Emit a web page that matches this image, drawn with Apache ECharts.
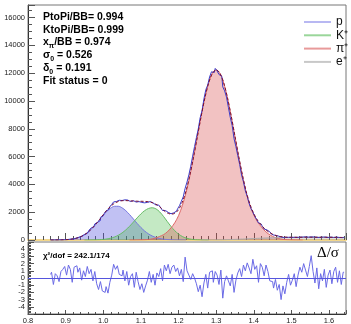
<!DOCTYPE html>
<html>
<head>
<meta charset="utf-8">
<script src="https://cdn.jsdelivr.net/npm/echarts@6/dist/echarts.min.js"></script>
<style>
html,body{margin:0;padding:0;background:#fff}
#c{width:351px;height:324px}
</style>
</head>
<body>
<div id="c"></div>
<script>
// Mass-squared / BB fit: data histogram, species components, total fit, pulls.
const xMin = 0.8, xMax = 1.645;

// Data histogram (bin width 0.005, first bin centre 0.86)
const binStart = 0.86, binWidth = 0.005;
const counts = [
  2,3,1,4,6,6,14,21,30,33,
  55,68,75,122,161,196,258,295,397,474,
  611,711,859,962,1158,1269,1408,1626,1745,1901,
  2098,2196,2405,2560,2740,2769,2857,2824,2841,2889,
  2812,2874,2766,2820,2831,2725,2831,2761,2701,2739,
  2672,2705,2733,2766,2658,2656,2520,2514,2397,2326,
  2121,2124,1990,1988,1889,1954,1994,2088,2244,2466,
  2786,3104,3714,4166,4690,5311,6034,6711,7365,7989,
  8794,9300,10148,10807,11142,11726,12097,12048,12340,12164,
  11901,11774,11012,10725,10273,9541,8812,8235,7290,6711,
  6062,5428,4671,4184,3539,3135,2631,2257,2010,1707,
  1483,1226,1141,974,788,722,591,485,408,340,
  311,255,238,189,202,179,194,207,184,193,
  205,180,203,219,210,228,216,203,223,244,
  213,190,219,178,206,191,213,177,200,208,
  180,202,209,178,198,170,191
];

// Pulls (data - fit) / sigma, same bins
const pulls = [
  0.5,0.8,-0.9,0.6,0.3,-0.5,0.9,1.2,1.6,0.4,
  1.8,1.2,-0.6,1.5,1.7,0.8,1.4,-0.3,1.0,0.2,
  1.6,0.6,1.2,-0.4,0.9,-0.8,-1.6,-0.5,-1.8,-2.0,
  -1.2,-2.1,-0.6,0.4,1.9,1.2,1.7,0.5,0.3,1.1,
  -0.4,0.9,-1.0,0.2,0.6,-1.3,0.8,-0.5,-1.6,-0.8,
  -2.0,-1.1,-0.3,0.9,-0.6,0.5,-1.0,0.7,0.2,1.3,
  -0.4,1.8,1.0,1.9,0.6,1.5,1.8,0.9,1.4,0.3,
  1.2,-0.5,2.9,1.0,0.4,-0.2,0.6,0.0,-0.8,-1.9,
  -1.0,-2.6,-0.7,0.5,-1.4,0.8,1.0,-0.6,0.9,0.4,
  -0.9,1.1,-2.8,-0.5,0.3,-0.4,-1.1,0.5,-2.0,-0.3,
  0.7,1.3,0.2,1.8,1.0,2.1,1.4,0.6,2.6,1.2,
  1.7,-0.6,2.0,1.5,0.3,1.8,0.9,-0.4,-0.5,-1.4,
  -0.2,-1.7,-0.9,-3.0,-1.1,-2.2,-0.6,0.5,-1.0,-0.3,
  0.6,-1.2,0.4,1.5,0.8,2.0,1.1,0.2,1.6,3.1,
  0.9,-0.7,1.4,-1.5,0.6,-0.4,1.2,-1.3,0.4,1.1,
  -0.8,0.9,1.5,-0.6,1.0,-0.9,0.8
];

// Fit curves sampled every 0.01
const curveStep = 0.01;
const pStart = 0.86;
const pCurve = [1,2,5,11,22,43,80,141,237,377,571,820,1117,1446,1779,2077,2302,2424,2426,2314,
  2105,1827,1512,1194,899,646,443,289,180,107,61,33,17,8,4,2,1];
const kStart = 0.95;
const kCurve = [1,2,5,11,23,43,77,133,218,342,511,728,991,1285,1590,1876,2111,2266,2320,2241,
  2020,1699,1333,976,667,425,253,140,73,35,16,7,3,1];
const piStart = 1.07;
const piCurve = [1,2,5,10,20,40,80,150,260,380,580,870,1240,1750,2468,3400,4590,5953,7418,8881,
  10216,11290,11988,12230,11988,11290,10216,8881,7418,5953,4590,3400,2468,1792,1301,945,640,420,260,150,
  80,40,20,10,5,2,1];
const eStart = 1.26;
const eCurve = [2,4,6,8,10,12,20,27,35,45,55,67,80,92,105,118,130,140,150,158,
  165,172,178,183,188,192,195,198,200,200,200,199,198,196,194,191,188,184,180];
const totalStart = 0.86;
const totalCurve = [
  1,2,5,11,22,43,80,141,237,378,
  573,825,1128,1469,1822,2154,2435,2642,2768,2825,
  2833,2819,2799,2789,2785,2777,2749,2689,2571,2387,
  2140,1946,1863,1915,2179,2723,3541,4663,5988,7434,
  8888,10219,11291,11988,12240,12000,11310,10243,8916,7463,
  6008,4657,3480,2560,1897,1419,1075,780,570,418,
  315,252,218,203,198,197,197,199,200,200,
  200,199,198,196,194,191,188,184,180
];

const legendNames = ['p', 'K\u207A', '\u03C0\u207A', 'e\u207A'];
const legendColors = ['#b8b8f2', '#9ad69a', '#e89a9a', '#c8c8c8'];

function pairs(start, step, vals) {
  return vals.map((v, i) => [+(start + i * step).toFixed(4), v]);
}

const FONT = 'Liberation Sans, Arial, Helvetica, sans-serif';
const axisGrey = '#555';

const chart = echarts.init(document.getElementById('c'), null, {renderer: 'canvas'});

function compSeries(name, start, vals, line, fill) {
  return {
    name, type: 'line', xAxisIndex: 0, yAxisIndex: 0,
    data: pairs(start, curveStep, vals),
    symbol: 'none', smooth: 0.3, silent: true,
    lineStyle: {color: line, width: 1},
    itemStyle: {color: line},
    areaStyle: {color: fill, origin: 'start'}
  };
}

const richSub = {
  b: {fontSize: 10.5, fontWeight: 'bold', fontFamily: FONT, lineHeight: 13, verticalAlign: 'top'},
  s: {fontSize: 7, fontWeight: 'bold', fontFamily: FONT, lineHeight: 13, verticalAlign: 'bottom'}
};

const option = {
  animation: false,
  backgroundColor: '#fff',
  grid: [
    {left: 28, top: 5, width: 318, height: 235, show: true, borderColor: '#777', borderWidth: 1, outerBoundsMode: 'none', containLabel: false},
    {left: 28, top: 242, width: 318, height: 72, show: true, borderColor: '#777', borderWidth: 1, outerBoundsMode: 'none', containLabel: false}
  ],
  xAxis: [
    {
      type: 'value', gridIndex: 0, min: xMin, max: xMax, interval: 0.1,
      axisLine: {onZero: false, lineStyle: {color: '#f2d68a', width: 2}},
      axisTick: {inside: true, length: 7, lineStyle: {color: axisGrey}},
      minorTick: {show: true, splitNumber: 5, length: 4, lineStyle: {color: axisGrey}},
      axisLabel: {show: false}, splitLine: {show: false}
    },
    {
      type: 'value', gridIndex: 1, min: xMin, max: xMax, interval: 0.1,
      axisLine: {onZero: false, lineStyle: {color: '#333', width: 1}},
      axisTick: {inside: true, length: 4, lineStyle: {color: axisGrey}},
      minorTick: {show: true, splitNumber: 5, length: 2, lineStyle: {color: axisGrey}},
      axisLabel: {
        fontSize: 7.5, fontFamily: FONT, color: '#222', margin: 3, showMaxLabel: false,
        formatter: v => Math.abs(v * 10 - Math.round(v * 10)) < 1e-6 ? (Math.round(v * 10) / 10).toFixed(1) : ''
      },
      splitLine: {show: false}
    }
  ],
  yAxis: [
    {
      type: 'value', gridIndex: 0, min: 0, max: 16900, interval: 2000,
      axisLine: {show: true, lineStyle: {color: '#333'}},
      axisTick: {show: true, inside: true, length: 7, lineStyle: {color: axisGrey}},
      minorTick: {show: true, splitNumber: 4, length: 4, lineStyle: {color: axisGrey}},
      axisLabel: {fontSize: 7.5, fontFamily: FONT, color: '#222', margin: 3, showMaxLabel: false,
        formatter: v => (v % 2000 === 0 ? String(v) : '')},
      splitLine: {show: false}
    },
    {
      type: 'value', gridIndex: 1, min: -5, max: 5, interval: 1,
      axisLine: {show: true, lineStyle: {color: '#333'}},
      axisTick: {show: true, inside: true, length: 6, lineStyle: {color: axisGrey}},
      minorTick: {show: true, splitNumber: 5, length: 3, lineStyle: {color: axisGrey}},
      axisLabel: {fontSize: 7.5, fontFamily: FONT, color: '#222', margin: 3},
      splitLine: {show: false}
    }
  ],
  legend: {
    orient: 'vertical', left: 299, top: 11, itemWidth: 27, itemHeight: 2, itemGap: 1.3,
    textStyle: {fontSize: 12, fontFamily: FONT, color: '#111', lineHeight: 11},
    data: legendNames.map((n, i) => ({name: n, icon: 'rect', itemStyle: {color: legendColors[i], borderWidth: 0}}))
  },
  graphic: [
    {type: 'text', left: 43, top: 12, style: {text: 'PtoPi/BB= 0.994', font: 'bold 10.5px ' + FONT, fill: '#000'}},
    {type: 'text', left: 43, top: 25, style: {text: 'KtoPi/BB= 0.999', font: 'bold 10.5px ' + FONT, fill: '#000'}},
    {type: 'text', left: 43, top: 37, style: {text: '{b|x}{s|\u03C0}{b|/BB = 0.974}', font: 'bold 10.5px ' + FONT, fill: '#000', rich: richSub}},
    {type: 'text', left: 43, top: 50, style: {text: '{b|\u03C3}{s|0}{b| = 0.526}', font: 'bold 10.5px ' + FONT, fill: '#000', rich: richSub}},
    {type: 'text', left: 43, top: 63, style: {text: '{b|\u03B4}{s|0}{b| = 0.191}', font: 'bold 10.5px ' + FONT, fill: '#000', rich: richSub}},
    {type: 'text', left: 43, top: 76, style: {text: 'Fit status = 0', font: 'bold 10.5px ' + FONT, fill: '#000'}},
    {type: 'text', left: 43, top: 252, style: {text: '\u03C7\u00B2/dof = 242.1/174', font: 'bold 8px ' + FONT, fill: '#000'}},
    {type: 'text', left: 317, top: 246, style: {text: '\u0394/\u03C3', font: '15px "Liberation Serif", "DejaVu Serif", serif', fill: '#000'}}
  ],
  series: [
    compSeries(legendNames[0], pStart, pCurve, '#7777e0', 'rgba(80,80,220,0.5)'),
    compSeries(legendNames[1], kStart, kCurve, '#66bb66', 'rgba(70,185,70,0.45)'),
    compSeries(legendNames[2], piStart, piCurve, '#dd6666', 'rgba(215,70,70,0.47)'),
    compSeries(legendNames[3], eStart, eCurve, '#aaaaaa', 'rgba(140,140,140,0.4)'),
    {
      name: 'data', type: 'line', xAxisIndex: 0, yAxisIndex: 0,
      data: pairs(binStart, binWidth, counts), step: 'middle', symbol: 'none', silent: true,
      lineStyle: {color: '#3c3cc8', width: 1}, z: 5
    },
    {
      name: 'fit', type: 'line', xAxisIndex: 0, yAxisIndex: 0,
      data: pairs(totalStart, curveStep, totalCurve), symbol: 'none', smooth: 0.3, silent: true,
      lineStyle: {color: '#7a1030', width: 1, type: [3, 2]}, z: 6
    },
    {
      name: 'pull', type: 'line', xAxisIndex: 1, yAxisIndex: 1,
      data: pairs(binStart, binWidth, pulls), step: 'middle', symbol: 'none', silent: true,
      lineStyle: {color: '#6a6ae6', width: 1},
      markLine: {
        silent: true, symbol: 'none', label: {show: false},
        lineStyle: {color: '#5555dd', width: 1, type: 'solid'},
        data: [{yAxis: 0}]
      }
    }
  ]
};

chart.setOption(option);
</script>
</body>
</html>
